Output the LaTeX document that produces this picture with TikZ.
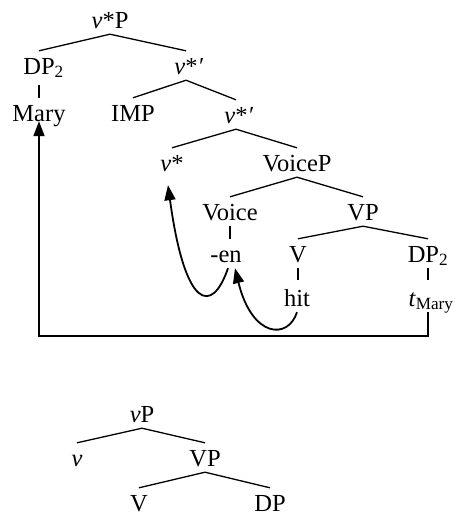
\documentclass[tikz,border=0pt]{standalone}
\usepackage{fontspec}
\setmainfont{Liberation Serif}
\usetikzlibrary{arrows.meta}
\begin{document}
\begin{tikzpicture}[x=1pt,y=-1pt,
  lab/.style={anchor=base,inner sep=0pt,text height=23pt,text depth=6pt,
    font=\fontsize{24.5}{29}\selectfont},
  branch/.style={line width=1.3pt},
  move/.style={line width=1.8pt,-{Triangle[length=15pt,width=11pt]}},
]
\useasboundingbox (0,0) rectangle (455,512);

% upper tree: v*P
\node[lab] (vsP)    at (110,28)  {\textit{v}*P};
\node[lab] (dpA)    at (39,74)   {DP\rlap{\textsubscript{2}}};
\node[lab] (vsbarA) at (186,74)  {\textit{v}*\rlap{\textit{′}}};
\node[lab] (mary)   at (39,121)  {Mary};
\node[lab] (imp)    at (133,121) {IMP};
\node[lab] (vsbarB) at (236,123) {\textit{v}*\rlap{\textit{′}}};
\node[lab] (vs)     at (172,171) {\textit{v}*};
\node[lab] (voiceP) at (297,171) {VoiceP};
\node[lab] (voice)  at (230,220) {Voice};
\node[lab] (vp)     at (363,220) {VP};
\node[lab] (en)     at (226,262) {-en};
\node[lab] (v)      at (298,262) {V};
\node[lab] (dpB)    at (428,262) {DP\textsubscript{2}};
\node[lab] (hit)    at (297,306) {hit};
\node[lab] (trace)  at (431,306) {\textit{t}\textsubscript{Mary}};

\draw[branch] (dpA.north) -- (vsP.south) -- (vsbarA.north);
\draw[branch,shorten <=5pt] (dpA.south) -- (mary.north);
\draw[branch] (imp.north) -- (vsbarA.south) -- (vsbarB.north);
\draw[branch] (vs.north) -- (vsbarB.south) -- (voiceP.north);
\draw[branch] (voice.north) -- (voiceP.south) -- (vp.north);
\draw[branch] (voice.south) -- (voice.south |- en.north);
\draw[branch] (v.north) -- (vp.south) -- (dpB.north);
\draw[branch,shorten >=3pt] (v.south) -- (v.south |- hit.north);
\draw[branch,shorten >=3pt] (dpB.south) -- (dpB.south |- trace.north);

% movement arrows
\coordinate (turn) at (428,336);
\draw[move,shorten >=-6pt] (turn |- trace.south) -- (turn) -| (mary.south);
\draw[move] ([xshift=2pt]en.south) .. controls (212,315) and (185,310) ..
  ([xshift=-4pt,yshift=-8pt]vs.south);
\draw[move] (hit.south) .. controls (288,340) and (252,338) ..
  ([xshift=9pt]en.south);

% lower tree: vP
\node[lab] (vPb) at (142,422) {\textit{v}P};
\node[lab] (vb)  at (77,466)  {\textit{v}};
\node[lab] (VPb) at (205,466) {VP};
\node[lab] (Vb)  at (139,511) {V};
\node[lab] (DPb) at (270,511) {DP};

\draw[branch] (vb.north) -- (vPb.south) -- (VPb.north);
\draw[branch] (Vb.north) -- (VPb.south) -- (DPb.north);
\end{tikzpicture}
\end{document}
